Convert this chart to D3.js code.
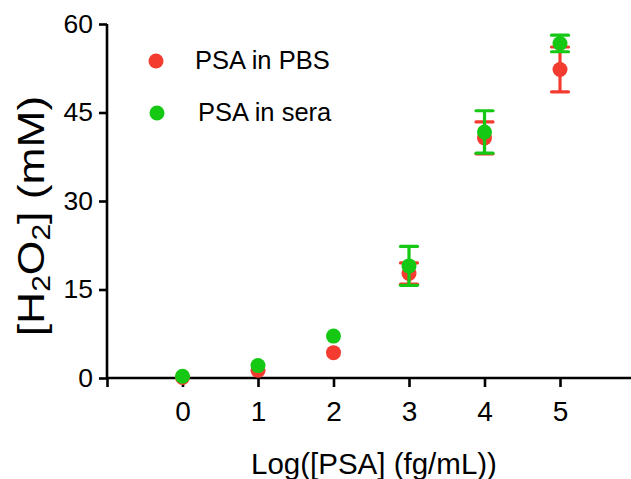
<!DOCTYPE html>
<html>
<head>
<meta charset="utf-8">
<script src="https://cdn.jsdelivr.net/npm/d3@7"></script>
<style>
  html, body { margin: 0; padding: 0; background: #fff; }
  svg { display: block; }
  text { font-family: Arial, "Liberation Sans", sans-serif; fill: #000; }
</style>
</head>
<body>
<script>
// ---- data ----
const logPSA = [0, 1, 2, 3, 4, 5];
const pbsMean = [0.1, 1.3, 4.3, 17.7, 40.7, 52.3];
const pbsSD   = [0, 0, 0, 1.8, 2.7, 3.8];
const seraMean = [0.3, 2.1, 7.1, 19.0, 41.7, 56.7];
const seraSD   = [0, 0, 0, 3.3, 3.6, 1.4];
const xTickValues = [-1, 0, 1, 2, 3, 4, 5];
const yTickValues = [0, 15, 30, 45, 60];
const seriesNames = ["PSA in PBS", "PSA in sera"];
const seriesColors = ["#F43B2F", "#14C814"];

const W = 631, H = 479;
const svg = d3.select("body").append("svg").attr("width", W).attr("height", H);
svg.append("rect").attr("width", W).attr("height", H).attr("fill", "#fff");

const x = d3.scaleLinear().domain([-1, 6]).range([107, 635.5]);
const y = d3.scaleLinear().domain([0, 60]).range([378, 24]);

// axes
const xAxis = d3.axisBottom(x).tickValues(xTickValues)
  .tickFormat(d => d < 0 ? "" : d3.format("d")(d))
  .tickSizeInner(9).tickSizeOuter(0).tickPadding(14);
const yAxis = d3.axisLeft(y).tickValues(yTickValues)
  .tickSizeInner(8).tickSizeOuter(0).tickPadding(6);

const gx = svg.append("g").attr("transform", `translate(0,${y(0)})`).call(xAxis);
gx.select(".domain").attr("stroke", "#000").attr("stroke-width", 2.6).attr("d", `M${x(-1)},0H${W + 5}`);
gx.selectAll(".tick line").attr("stroke", "#000").attr("stroke-width", 2.6);
gx.selectAll(".tick text").attr("font-size", 28).attr("font-family", "Arial, 'Liberation Sans', sans-serif").attr("fill", "#000");

const gy = svg.append("g").attr("transform", `translate(${x(-1)},0)`).call(yAxis);
gy.select(".domain").attr("stroke", "#000").attr("stroke-width", 2.6).attr("d", `M0,${y(60)}V${y(0) + 1}`);
gy.selectAll(".tick line").attr("stroke", "#000").attr("stroke-width", 2.6);
gy.selectAll(".tick text").attr("font-size", 26.5).attr("font-family", "Arial, 'Liberation Sans', sans-serif").attr("fill", "#000");

// axis titles
svg.append("text").attr("x", 374).attr("y", 474).attr("text-anchor", "middle")
  .attr("font-size", 29.5).text("Log([PSA] (fg/mL))");

const yt = svg.append("text").attr("text-anchor", "middle")
  .attr("transform", "translate(44,216) rotate(-90) scale(1.2,1)").attr("font-size", 37);
yt.append("tspan").text("[H");
yt.append("tspan").attr("font-size", 25).attr("dy", 6).text("2");
yt.append("tspan").attr("dy", -6).text("O");
yt.append("tspan").attr("font-size", 25).attr("dy", 6).text("2");
yt.append("tspan").attr("dy", -6).text("] (mM)");

// series
const series = [
  { mean: pbsMean, sd: pbsSD, color: seriesColors[0] },
  { mean: seraMean, sd: seraSD, color: seriesColors[1] }
];
const capHalf = 8.5;
series.forEach(s => {
  const g = svg.append("g");
  const pts = logPSA.map((v, i) => ({ x: v, m: s.mean[i], sd: s.sd[i] }));
  const eb = pts.filter(p => p.sd > 0);
  g.selectAll("line.v").data(eb).join("line")
    .attr("x1", d => x(d.x)).attr("x2", d => x(d.x))
    .attr("y1", d => y(d.m + d.sd)).attr("y2", d => y(d.m - d.sd))
    .attr("stroke", s.color).attr("stroke-width", 3.2);
  [1, -1].forEach(sign => {
    g.selectAll(null).data(eb).join("line")
      .attr("x1", d => x(d.x) - capHalf).attr("x2", d => x(d.x) + capHalf)
      .attr("y1", d => y(d.m + sign * d.sd)).attr("y2", d => y(d.m + sign * d.sd))
      .attr("stroke", s.color).attr("stroke-width", 3.2).attr("stroke-linecap", "round");
  });
  g.selectAll("circle").data(pts).join("circle")
    .attr("cx", d => x(d.x)).attr("cy", d => y(d.m)).attr("r", 7.5)
    .attr("fill", s.color);
});

// legend
const legendY = [61, 113];
const legendDotX = [156, 157];
const legendTextX = [195, 198];
seriesNames.forEach((n, i) => {
  svg.append("circle").attr("cx", legendDotX[i]).attr("cy", legendY[i]).attr("r", 7.5).attr("fill", seriesColors[i]);
  svg.append("text").attr("x", legendTextX[i]).attr("y", legendY[i] + 8).attr("font-size", 25.5).text(n);
});
</script>
</body>
</html>
